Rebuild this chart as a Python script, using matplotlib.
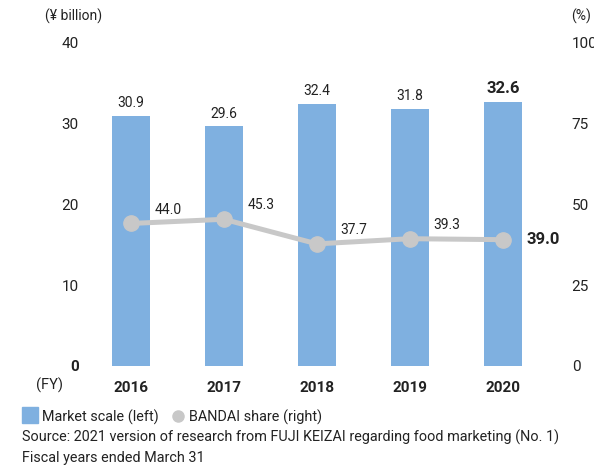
import matplotlib.pyplot as plt
import numpy as np

plt.rcParams['font.family'] = ['Roboto', 'DejaVu Sans']

years = ["2016", "2017", "2018", "2019", "2020"]
market = [30.9, 29.6, 32.4, 31.8, 32.6]
share = [44.0, 45.3, 37.7, 39.3, 39.0]

bar_color = "#7fb0e0"
line_color = "#c8c8c8"
text_color = "#222222"

fig = plt.figure(figsize=(5.94, 4.68), dpi=100)
ax = fig.add_axes([0.142, 0.218, 0.783, 0.692])
ax2 = ax.twinx()

x = np.arange(len(years))
ax.bar(x, market, width=0.41, color=bar_color, zorder=1)
ax.set_ylim(0, 40)
ax.set_xlim(-0.5, 4.5)
ax.set_yticks([0, 10, 20, 30, 40])
ax.set_xticks(x)
ax.set_xticklabels(years, fontweight="bold", fontsize=11)

ax2.plot(x, share, color=line_color, lw=3.6, marker="o", ms=11, zorder=3)
ax2.set_ylim(0, 100)
ax2.set_yticks([0, 25, 50, 75, 100])

for a in (ax, ax2):
    for s in a.spines.values():
        s.set_visible(False)
    a.tick_params(length=0, labelsize=11, colors=text_color)
ax.tick_params(axis="y", pad=4)
ax.tick_params(axis="x", pad=11)
ax2.tick_params(axis="y", pad=16)
ax.get_yticklabels()[0].set_fontweight("bold")

# bar value labels
for i, v in enumerate(market):
    last = i == len(market) - 1
    ax.annotate(f"{v:.1f}", (x[i], v), xytext=(0, 4), textcoords="offset points",
                ha="center", va="bottom", color=text_color,
                fontsize=12 if last else 10, fontweight="bold" if last else "normal")

# share value labels
for i, v in enumerate(share):
    last = i == len(share) - 1
    if last:
        ax2.annotate(f"{v:.1f}", (x[i], v), xytext=(17, 0), textcoords="offset points",
                     ha="left", va="center", color=text_color, fontsize=12, fontweight="bold")
    else:
        ax2.annotate(f"{v:.1f}", (x[i], v), xytext=(17, 5), textcoords="offset points",
                     ha="left", va="bottom", color=text_color, fontsize=10)

fig.text(0.075, 0.965, "(¥ billion)", fontsize=10, color=text_color, ha="left", va="center")
fig.text(0.978, 0.965, "(%)", fontsize=10, color=text_color, ha="center", va="center")
fig.text(0.083, 0.176, "(FY)", fontsize=10.5, color=text_color, ha="center", va="center")

# legend
fig.patches.append(plt.Rectangle((0.037, 0.096), 0.027, 0.034, transform=fig.transFigure,
                                 color=bar_color))
fig.text(0.07, 0.109, "Market scale (left)", fontsize=10.4, color=text_color, va="center")
fig.lines.append(plt.Line2D([0.3], [0.111], transform=fig.transFigure, marker="o",
                            ms=8, color=line_color, lw=0))
fig.text(0.318, 0.109, "BANDAI share (right)", fontsize=10.4, color=text_color, va="center")
fig.text(0.037, 0.066, "Source: 2021 version of research from FUJI KEIZAI regarding food marketing (No. 1)",
         fontsize=10.4, color=text_color, va="center")
fig.text(0.037, 0.021, "Fiscal years ended March 31", fontsize=10.4, color=text_color, va="center")

fig.savefig("out.png", dpi=100)
